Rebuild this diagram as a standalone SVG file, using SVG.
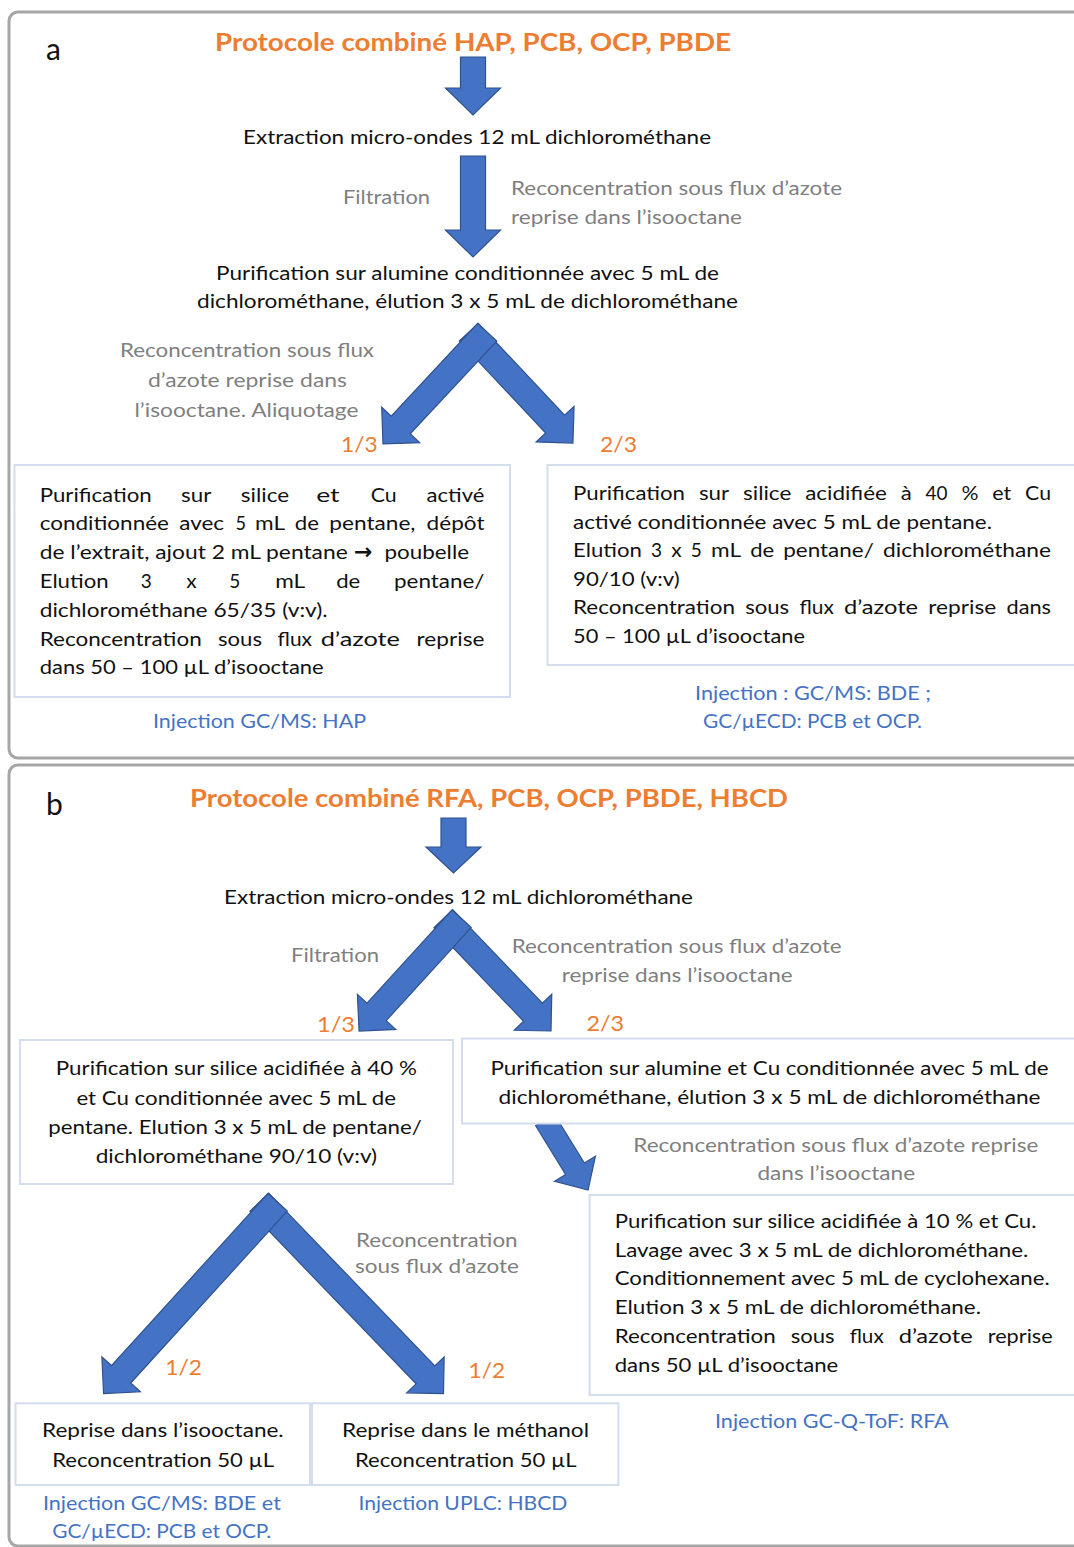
<svg xmlns="http://www.w3.org/2000/svg" width="1074" height="1547" viewBox="0 0 1074 1547">
<style>
text{font-family:Lato,"Liberation Sans",sans-serif;font-size:19.5px;fill:#111}
.g{fill:#7F7F7F}
.o{fill:#ED7D31;font-size:21px}
.bl{fill:#4472C4}
.ttl{fill:#ED7D31;font-weight:bold;font-size:25px}
.lbl{font-size:30px;fill:#111}
.box{fill:#fff;stroke:#D3DDEE;stroke-width:2}
.panel{fill:#fff;stroke:#A6A6A6;stroke-width:3}
.arr{fill:#4472C4;stroke:#2F528F;stroke-width:1.2;stroke-linejoin:miter}
</style>
<rect width="1074" height="1547" fill="#fff"/>
<rect class="panel" x="9" y="12" width="1085" height="746" rx="9"/>
<rect class="panel" x="9" y="765" width="1085" height="781" rx="9"/>

<g id="connectors">
  <!-- panel a -->
  <polygon class="arr" transform="translate(473,57) rotate(90)" points="0,-12.5 31,-12.5 31,-27.5 58,0 31,27.5 31,12.5 0,12.5"/>
  <polygon class="arr" transform="translate(473,156) rotate(90)" points="0,-12.5 74,-12.5 74,-27.5 101,0 74,27.5 74,12.5 0,12.5"/>
  <polygon class="arr" transform="translate(468.8,332.2) rotate(46.8)" points="0,-13 126.1,-13 126.1,-26 152.1,0 126.1,26 126.1,13 0,13"/>
  <polygon class="arr" transform="translate(487.2,332.2) rotate(133)" points="0,-13 126.8,-13 126.8,-26 152.8,0 126.8,26 126.8,13 0,13"/>
  <!-- panel b -->
  <polygon class="arr" transform="translate(453.5,818) rotate(90)" points="0,-12.5 29,-12.5 29,-27.5 55,0 29,27.5 29,12.5 0,12.5"/>
  <polygon class="arr" transform="translate(443.3,918.7) rotate(46.2)" points="0,-13 129.6,-13 129.6,-26 155.6,0 129.6,26 129.6,13 0,13"/>
  <polygon class="arr" transform="translate(461.7,918.7) rotate(132.4)" points="0,-13 126.2,-13 126.2,-26 152.2,0 126.2,26 126.2,13 0,13"/>
  <polygon class="arr" transform="translate(545,1120) rotate(58.4)" points="0,-11 57.2,-11 57.2,-24 82.2,0 57.2,24 57.2,11 0,11"/>
  <polygon class="arr" transform="translate(259.3,1202.2) rotate(46.1)" points="0,-13 239.6,-13 239.6,-26 265.6,0 239.6,26 239.6,13 0,13"/>
  <polygon class="arr" transform="translate(277.7,1202.2) rotate(132.3)" points="0,-13 232.7,-13 232.7,-26 258.7,0 232.7,26 232.7,13 0,13"/>
</g>

<!-- ================= PANEL A ================= -->
<g id="a-label"><text class="lbl" x="46" y="60">a</text></g>
<g id="a-title"><text class="ttl" x="215" y="51" textLength="516" lengthAdjust="spacingAndGlyphs">Protocole combiné HAP, PCB, OCP, PBDE</text></g>
<g id="a-extraction"><text x="243" y="144" textLength="468" lengthAdjust="spacingAndGlyphs">Extraction micro-ondes 12 mL dichlorométhane</text></g>
<g id="a-filtration"><text class="g" x="343" y="204" textLength="87" lengthAdjust="spacingAndGlyphs">Filtration</text></g>
<g id="a-reconc1">
  <text class="g" x="511" y="195" textLength="331" lengthAdjust="spacingAndGlyphs">Reconcentration sous flux d’azote</text>
  <text class="g" x="511" y="224" textLength="231" lengthAdjust="spacingAndGlyphs">reprise dans l’isooctane</text>
</g>
<g id="a-alumine">
  <text x="216" y="280" textLength="503" lengthAdjust="spacingAndGlyphs">Purification sur alumine conditionnée avec 5 mL de</text>
  <text x="197" y="308" textLength="541" lengthAdjust="spacingAndGlyphs">dichlorométhane, élution 3 x 5 mL de dichlorométhane</text>
</g>
<g id="a-reconc2">
  <text class="g" x="120" y="357" textLength="254" lengthAdjust="spacingAndGlyphs">Reconcentration sous flux</text>
  <text class="g" x="148" y="387" textLength="199" lengthAdjust="spacingAndGlyphs">d’azote reprise dans</text>
  <text class="g" x="134.5" y="417" textLength="224" lengthAdjust="spacingAndGlyphs">l’isooctane. Aliquotage</text>
</g>
<g id="a-frac13"><text class="o" x="341" y="452" textLength="36.6" lengthAdjust="spacingAndGlyphs">1/3</text></g>
<g id="a-frac23"><text class="o" x="600" y="452" textLength="37" lengthAdjust="spacingAndGlyphs">2/3</text></g>

<g id="a-box-left">
  <rect class="box" x="14.5" y="465" width="495.5" height="232"/>
  <text y="501.5"><tspan x="39.7" textLength="112" lengthAdjust="spacingAndGlyphs">Purification</tspan><tspan x="181.1" textLength="30.3" lengthAdjust="spacingAndGlyphs">sur</tspan><tspan x="240.8" textLength="48.3" lengthAdjust="spacingAndGlyphs">silice</tspan><tspan x="316.2" textLength="23.4" lengthAdjust="spacingAndGlyphs">et</tspan><tspan x="370.7" textLength="25.9" lengthAdjust="spacingAndGlyphs">Cu</tspan><tspan x="426.6" textLength="57.9" lengthAdjust="spacingAndGlyphs">activé</tspan></text>
  <text y="530.3"><tspan x="39.7" textLength="129.3" lengthAdjust="spacingAndGlyphs">conditionnée</tspan><tspan x="179.3" textLength="44.8" lengthAdjust="spacingAndGlyphs">avec</tspan><tspan x="235.5" textLength="10.5" lengthAdjust="spacingAndGlyphs">5</tspan><tspan x="255" textLength="30" lengthAdjust="spacingAndGlyphs">mL</tspan><tspan x="294.8" textLength="24.2" lengthAdjust="spacingAndGlyphs">de</tspan><tspan x="329.3" textLength="86.2" lengthAdjust="spacingAndGlyphs">pentane,</tspan><tspan x="426.6" textLength="57.9" lengthAdjust="spacingAndGlyphs">dépôt</tspan></text>
  <text y="559.1"><tspan x="39.7" textLength="308" lengthAdjust="spacingAndGlyphs">de l’extrait, ajout 2 mL pentane</tspan><tspan x="354" font-weight="bold" font-family="DejaVu Sans, sans-serif" font-size="22">→</tspan><tspan x="384.5" textLength="84.5" lengthAdjust="spacingAndGlyphs">poubelle</tspan></text>
  <text y="587.9"><tspan x="39.7" textLength="68.9" lengthAdjust="spacingAndGlyphs">Elution</tspan><tspan x="140.7" textLength="11" lengthAdjust="spacingAndGlyphs">3</tspan><tspan x="186.2" textLength="10.4" lengthAdjust="spacingAndGlyphs">x</tspan><tspan x="229.3" textLength="11" lengthAdjust="spacingAndGlyphs">5</tspan><tspan x="275.2" textLength="30" lengthAdjust="spacingAndGlyphs">mL</tspan><tspan x="336.2" textLength="24.1" lengthAdjust="spacingAndGlyphs">de</tspan><tspan x="394" textLength="90.5" lengthAdjust="spacingAndGlyphs">pentane/</tspan></text>
  <text x="39.7" y="616.7" textLength="288" lengthAdjust="spacingAndGlyphs">dichlorométhane 65/35 (v:v).</text>
  <text y="645.5"><tspan x="39.7" textLength="162" lengthAdjust="spacingAndGlyphs">Reconcentration</tspan><tspan x="218" textLength="44" lengthAdjust="spacingAndGlyphs">sous</tspan><tspan x="277.6" textLength="34.4" lengthAdjust="spacingAndGlyphs">flux</tspan><tspan x="320.7" textLength="79.3" lengthAdjust="spacingAndGlyphs">d’azote</tspan><tspan x="416.6" textLength="67.9" lengthAdjust="spacingAndGlyphs">reprise</tspan></text>
  <text x="39.7" y="674.3" textLength="284" lengthAdjust="spacingAndGlyphs">dans 50 – 100 µL d’isooctane</text>
</g>
<g id="a-inj-left"><text class="bl" x="153" y="728" textLength="213" lengthAdjust="spacingAndGlyphs">Injection GC/MS: HAP</text></g>

<g id="a-box-right">
  <rect class="box" x="547.5" y="465" width="540" height="200"/>
  <text y="500"><tspan x="573" textLength="112" lengthAdjust="spacingAndGlyphs">Purification</tspan><tspan x="698.9" textLength="30.3" lengthAdjust="spacingAndGlyphs">sur</tspan><tspan x="743" textLength="48.3" lengthAdjust="spacingAndGlyphs">silice</tspan><tspan x="805.2" textLength="81.7" lengthAdjust="spacingAndGlyphs">acidifiée</tspan><tspan x="900.7" textLength="11" lengthAdjust="spacingAndGlyphs">à</tspan><tspan x="925.6" textLength="22" lengthAdjust="spacingAndGlyphs">40</tspan><tspan x="961.4" textLength="17" lengthAdjust="spacingAndGlyphs">%</tspan><tspan x="992.3" textLength="19" lengthAdjust="spacingAndGlyphs">et</tspan><tspan x="1025.1" textLength="25.9" lengthAdjust="spacingAndGlyphs">Cu</tspan></text>
  <text x="573" y="528.6" textLength="419" lengthAdjust="spacingAndGlyphs">activé conditionnée avec 5 mL de pentane.</text>
  <text y="557.2"><tspan x="573" textLength="68.9" lengthAdjust="spacingAndGlyphs">Elution</tspan><tspan x="651.1" textLength="11" lengthAdjust="spacingAndGlyphs">3</tspan><tspan x="671.2" textLength="10.4" lengthAdjust="spacingAndGlyphs">x</tspan><tspan x="690.8" textLength="11" lengthAdjust="spacingAndGlyphs">5</tspan><tspan x="711" textLength="30" lengthAdjust="spacingAndGlyphs">mL</tspan><tspan x="750.2" textLength="24" lengthAdjust="spacingAndGlyphs">de</tspan><tspan x="783.3" textLength="90.5" lengthAdjust="spacingAndGlyphs">pentane/</tspan><tspan x="883" textLength="168" lengthAdjust="spacingAndGlyphs">dichlorométhane</tspan></text>
  <text x="573" y="585.8" textLength="106.6" lengthAdjust="spacingAndGlyphs">90/10 (v:v)</text>
  <text y="614.4"><tspan x="573" textLength="162" lengthAdjust="spacingAndGlyphs">Reconcentration</tspan><tspan x="745.2" textLength="44" lengthAdjust="spacingAndGlyphs">sous</tspan><tspan x="799.5" textLength="34.4" lengthAdjust="spacingAndGlyphs">flux</tspan><tspan x="844.1" textLength="74" lengthAdjust="spacingAndGlyphs">d’azote</tspan><tspan x="928.3" textLength="67.9" lengthAdjust="spacingAndGlyphs">reprise</tspan><tspan x="1006.5" textLength="44.5" lengthAdjust="spacingAndGlyphs">dans</tspan></text>
  <text x="573" y="643" textLength="232" lengthAdjust="spacingAndGlyphs">50 – 100 µL d’isooctane</text>
</g>
<g id="a-inj-right">
  <text class="bl" x="695" y="700" textLength="236" lengthAdjust="spacingAndGlyphs">Injection : GC/MS: BDE ;</text>
  <text class="bl" x="703" y="728" textLength="219" lengthAdjust="spacingAndGlyphs">GC/µECD: PCB et OCP.</text>
</g>

<!-- ================= PANEL B ================= -->
<g id="b-label"><text class="lbl" x="46" y="815">b</text></g>
<g id="b-title"><text class="ttl" x="190" y="807" textLength="598" lengthAdjust="spacingAndGlyphs">Protocole combiné RFA, PCB, OCP, PBDE, HBCD</text></g>
<g id="b-extraction"><text x="224" y="904" textLength="469" lengthAdjust="spacingAndGlyphs">Extraction micro-ondes 12 mL dichlorométhane</text></g>
<g id="b-filtration"><text class="g" x="291" y="962" textLength="88" lengthAdjust="spacingAndGlyphs">Filtration</text></g>
<g id="b-reconc1">
  <text class="g" x="511.7" y="953.3" textLength="330" lengthAdjust="spacingAndGlyphs">Reconcentration sous flux d’azote</text>
  <text class="g" x="561.7" y="981.7" textLength="231" lengthAdjust="spacingAndGlyphs">reprise dans l’isooctane</text>
</g>
<g id="b-frac13"><text class="o" x="317" y="1031.7" textLength="38" lengthAdjust="spacingAndGlyphs">1/3</text></g>
<g id="b-frac23"><text class="o" x="586.4" y="1031" textLength="37.6" lengthAdjust="spacingAndGlyphs">2/3</text></g>

<g id="b-box-silice40">
  <rect class="box" x="20" y="1040" width="433" height="144"/>
  <text x="55.8" y="1075" textLength="361" lengthAdjust="spacingAndGlyphs">Purification sur silice acidifiée à 40 %</text>
  <text x="76.4" y="1105" textLength="319.6" lengthAdjust="spacingAndGlyphs">et Cu conditionnée avec 5 mL de</text>
  <text x="48.2" y="1134" textLength="373.6" lengthAdjust="spacingAndGlyphs">pentane. Elution 3 x 5 mL de pentane/</text>
  <text x="95.7" y="1162.7" textLength="281.4" lengthAdjust="spacingAndGlyphs">dichlorométhane 90/10 (v:v)</text>
</g>

<g id="b-box-alumine">
  <rect class="box" x="462" y="1038.5" width="625" height="85"/>
  <text x="490.5" y="1075" textLength="558" lengthAdjust="spacingAndGlyphs">Purification sur alumine et Cu conditionnée avec 5 mL de</text>
  <text x="498.6" y="1104" textLength="542" lengthAdjust="spacingAndGlyphs">dichlorométhane, élution 3 x 5 mL de dichlorométhane</text>
</g>
<g id="b-reconc2">
  <text class="g" x="633.3" y="1151.7" textLength="405" lengthAdjust="spacingAndGlyphs">Reconcentration sous flux d’azote reprise</text>
  <text class="g" x="757.4" y="1180" textLength="157.7" lengthAdjust="spacingAndGlyphs">dans l’isooctane</text>
</g>

<g id="b-box-silice10">
  <rect class="box" x="589.6" y="1195" width="500" height="200"/>
  <text x="614.7" y="1228.3" textLength="421.7" lengthAdjust="spacingAndGlyphs">Purification sur silice acidifiée à 10 % et Cu.</text>
  <text x="614.7" y="1256.8" textLength="413.7" lengthAdjust="spacingAndGlyphs">Lavage avec 3 x 5 mL de dichlorométhane.</text>
  <text x="614.7" y="1285.3" textLength="435" lengthAdjust="spacingAndGlyphs">Conditionnement avec 5 mL de cyclohexane.</text>
  <text x="614.7" y="1313.8" textLength="366.3" lengthAdjust="spacingAndGlyphs">Elution 3 x 5 mL de dichlorométhane.</text>
  <text y="1342.8"><tspan x="614.7" textLength="161" lengthAdjust="spacingAndGlyphs">Reconcentration</tspan><tspan x="790.7" textLength="44" lengthAdjust="spacingAndGlyphs">sous</tspan><tspan x="849.7" textLength="34" lengthAdjust="spacingAndGlyphs">flux</tspan><tspan x="898.7" textLength="74" lengthAdjust="spacingAndGlyphs">d’azote</tspan><tspan x="987.7" textLength="65" lengthAdjust="spacingAndGlyphs">reprise</tspan></text>
  <text x="614.7" y="1371.5" textLength="223.6" lengthAdjust="spacingAndGlyphs">dans 50 µL d’isooctane</text>
</g>
<g id="b-inj-rfa"><text class="bl" x="715" y="1428.3" textLength="233.7" lengthAdjust="spacingAndGlyphs">Injection GC-Q-ToF: RFA</text></g>

<g id="b-reconc3">
  <text class="g" x="356" y="1246.7" textLength="161.6" lengthAdjust="spacingAndGlyphs">Reconcentration</text>
  <text class="g" x="355" y="1273.3" textLength="164" lengthAdjust="spacingAndGlyphs">sous flux d’azote</text>
</g>
<g id="b-frac12-left"><text class="o" x="165.3" y="1375" textLength="36.7" lengthAdjust="spacingAndGlyphs">1/2</text></g>
<g id="b-frac12-right"><text class="o" x="468.6" y="1378.3" textLength="36.4" lengthAdjust="spacingAndGlyphs">1/2</text></g>

<g id="b-box-isooctane">
  <rect class="box" x="15.5" y="1403.3" width="294.5" height="81.7"/>
  <text x="42" y="1436.7" textLength="241.7" lengthAdjust="spacingAndGlyphs">Reprise dans l’isooctane.</text>
  <text x="52.2" y="1466.7" textLength="222" lengthAdjust="spacingAndGlyphs">Reconcentration 50 µL</text>
</g>
<g id="b-box-methanol">
  <rect class="box" x="312" y="1403.3" width="306.4" height="81.7"/>
  <text x="342" y="1436.7" textLength="247" lengthAdjust="spacingAndGlyphs">Reprise dans le méthanol</text>
  <text x="355" y="1466.7" textLength="221.7" lengthAdjust="spacingAndGlyphs">Reconcentration 50 µL</text>
</g>
<g id="b-inj-bde">
  <text class="bl" x="42.9" y="1510" textLength="238" lengthAdjust="spacingAndGlyphs">Injection GC/MS: BDE et</text>
  <text class="bl" x="52.2" y="1538.3" textLength="219" lengthAdjust="spacingAndGlyphs">GC/µECD: PCB et OCP.</text>
</g>
<g id="b-inj-hbcd"><text class="bl" x="358.4" y="1510" textLength="209" lengthAdjust="spacingAndGlyphs">Injection UPLC: HBCD</text></g>
</svg>
